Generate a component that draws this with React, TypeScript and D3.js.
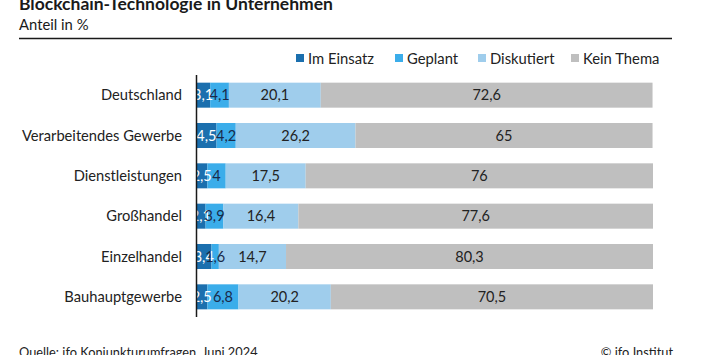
import React from "react";
import * as d3 from "d3";

const categories = ["Deutschland", "Verarbeitendes Gewerbe", "Dienstleistungen", "Großhandel", "Einzelhandel", "Bauhauptgewerbe"];
const seriesNames = ["Im Einsatz", "Geplant", "Diskutiert", "Kein Thema"];
const imEinsatz = [3.1, 4.5, 2.5, 2.1, 3.4, 2.5];
const geplant = [4.1, 4.2, 4, 3.9, 1.6, 6.8];
const diskutiert = [20.1, 26.2, 17.5, 16.4, 14.7, 20.2];
const keinThema = [72.6, 65, 76, 77.6, 80.3, 70.5];
const colors = ["#1b6fae", "#3badea", "#9fcdec", "#bfbfbf"];
const labelColors = ["#ffffff", "#1a2a4a", "#222222", "#222222"];

const W = 702, H = 355;
const FONT = "Lato, 'Open Sans', sans-serif";

export default function App() {
  const series = [imEinsatz, geplant, diskutiert, keinThema];
  const rows = categories.map((c, i) => {
    let acc = 0;
    return series.map((s, k) => {
      const x0 = acc;
      acc += s[i];
      return { k, x0, x1: acc, v: s[i] };
    });
  });
  const x = d3.scaleLinear().domain([0, 100]).range([196, 653]);
  const y = d3.scaleBand().domain(categories).range([75, 317]).paddingInner(0.38).paddingOuter(0.19);
  const fmt = (v: number) => String(v).replace(".", ",");
  const legendX = [296, 395, 478, 571];

  return (
    <svg width={W} height={H} style={{ position: "absolute", left: 0, top: 0, background: "#fff" }} fontFamily={FONT}>
      <text x={19} y={10} fontSize={17.5} fontWeight={700} fill="#1a1a1a">Blockchain-Technologie in Unternehmen</text>
      <text x={19} y={30} fontSize={14.8} fill="#1a1a1a">Anteil in %</text>
      <line x1={19} x2={672} y1={38.5} y2={38.5} stroke="#1a1a1a" strokeWidth={1.5} />
      {seriesNames.map((n, k) => (
        <g key={n}>
          <rect x={legendX[k]} y={54} width={8} height={8} fill={colors[k]} />
          <text x={legendX[k] + 12} y={63.5} fontSize={14.8} fill="#222">{n}</text>
        </g>
      ))}
      {categories.map((c, i) => {
        const y0 = y(c)!;
        const bh = y.bandwidth();
        return (
          <g key={c}>
            <text x={182} y={y0 + bh / 2 + 5} fontSize={14.7} textAnchor="end" fill="#222">{c}</text>
            {rows[i].map((seg) => (
              <rect key={seg.k} x={x(seg.x0)} y={y0} width={x(seg.x1) - x(seg.x0)} height={bh} fill={colors[seg.k]} />
            ))}
            {rows[i].map((seg) => (
              <text key={"t" + seg.k} x={(x(seg.x0) + x(seg.x1)) / 2} y={y0 + bh / 2 + 5} fontSize={14.5} textAnchor="middle" fill={labelColors[seg.k]}>{fmt(seg.v)}</text>
            ))}
          </g>
        );
      })}
      <line x1={196.5} x2={196.5} y1={75} y2={317} stroke="#1a1a1a" strokeWidth={1.5} />
      <text x={19} y={357} fontSize={12.8} fill="#222">Quelle: ifo Konjunkturumfragen, Juni 2024</text>
      <text x={673} y={357} fontSize={12.8} textAnchor="end" fill="#222">© ifo Institut</text>
    </svg>
  );
}
